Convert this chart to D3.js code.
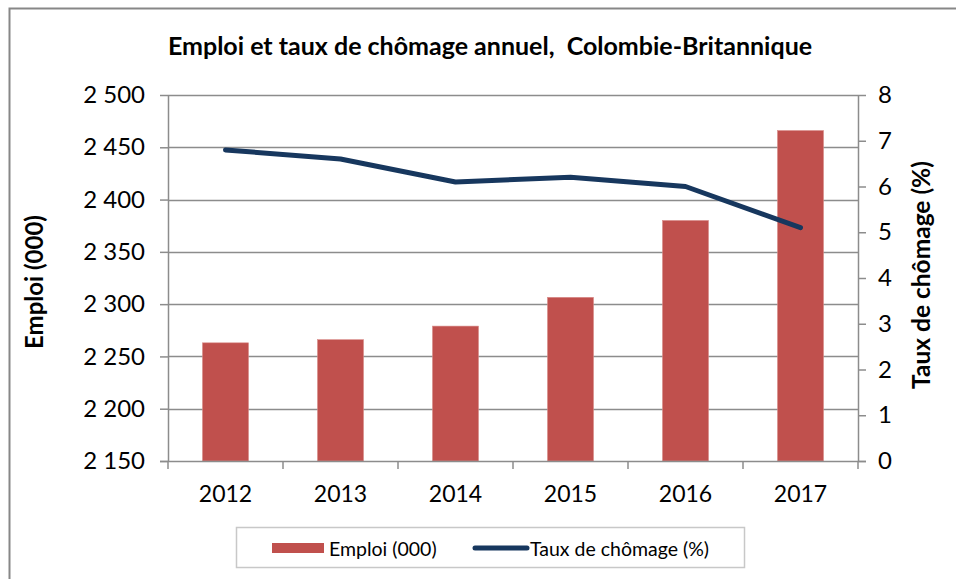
<!DOCTYPE html>
<html>
<head>
<meta charset="utf-8">
<script src="https://cdn.jsdelivr.net/npm/d3@7"></script>
<style>
  html, body { margin: 0; padding: 0; background: #fff; }
  svg text { font-family: Lato, "Open Sans", sans-serif; fill: #000; white-space: pre; }
</style>
</head>
<body>
<svg id="chart" width="956" height="579"></svg>
<script>
const years = ["2012", "2013", "2014", "2015", "2016", "2017"];
const emploi = [2263, 2266, 2279, 2306.5, 2380, 2466];
const chomage = [6.8, 6.6, 6.1, 6.2, 6.0, 5.1];
const leftTicks = [2150, 2200, 2250, 2300, 2350, 2400, 2450, 2500];
const rightTicks = [0, 1, 2, 3, 4, 5, 6, 7, 8];
const title = "Emploi et taux de chômage annuel,  Colombie-Britannique";
const leftTitle = "Emploi (000)";
const rightTitle = "Taux de chômage (%)";
const legendLabels = ["Emploi (000)", "Taux de chômage (%)"];

const svg = d3.select("#chart");
const m = { left: 168, right: 858, top: 95, bottom: 461 };
const gridColor = "#8c8c8c";
const barColor = "#C0504D";
const lineColor = "#17375E";

// outer frame
svg.append("rect").attr("x", 9.5).attr("y", 8.5).attr("width", 960).attr("height", 600)
  .attr("fill", "none").attr("stroke", "#878787").attr("stroke-width", 2);

const x = d3.scaleBand().domain(years).range([m.left, m.right]).padding(0);
const yL = d3.scaleLinear().domain([2150, 2500]).range([m.bottom, m.top]);
const yR = d3.scaleLinear().domain([0, 8]).range([m.bottom, m.top]);

// gridlines
svg.append("g").selectAll("line").data(leftTicks.slice(1)).join("line")
  .attr("x1", m.left).attr("x2", m.right)
  .attr("y1", d => Math.round(yL(d)) + 0.5).attr("y2", d => Math.round(yL(d)) + 0.5)
  .attr("stroke", gridColor).attr("stroke-width", 1.5);

// bars
const barW = x.bandwidth() * 0.4;
svg.append("g").selectAll("rect").data(emploi).join("rect")
  .attr("x", (d, i) => x(years[i]) + (x.bandwidth() - barW) / 2)
  .attr("width", barW)
  .attr("y", d => yL(d))
  .attr("height", d => yL(2150) - yL(d))
  .attr("fill", barColor)
  .attr("stroke", "#d88a88").attr("stroke-width", 0.6);

// left axis
const axL = d3.axisLeft(yL).tickValues(leftTicks).tickSize(8).tickPadding(15)
  .tickFormat(d => d3.format(",")(d).replace(",", " "));
const gL = svg.append("g").attr("transform", `translate(${m.left},0)`).call(axL);
// right axis
const axR = d3.axisRight(yR).tickValues(rightTicks).tickSize(8).tickPadding(12);
const gR = svg.append("g").attr("transform", `translate(${m.right},0)`).call(axR);
// bottom axis with ticks at category boundaries
const boundaries = years.map(y => x(y)).concat([m.right]);
const gB = svg.append("g");
gB.append("line").attr("x1", m.left - 8).attr("x2", m.right + 8)
  .attr("y1", m.bottom + 0.5).attr("y2", m.bottom + 0.5)
  .attr("stroke", gridColor).attr("stroke-width", 1.5);
gB.selectAll("line.tk").data(boundaries).join("line").attr("class", "tk")
  .attr("x1", d => d).attr("x2", d => d).attr("y1", m.bottom).attr("y2", m.bottom + 8)
  .attr("stroke", gridColor).attr("stroke-width", 1.5);
gB.selectAll("text").data(years).join("text")
  .attr("x", d => x(d) + x.bandwidth() / 2).attr("y", 502)
  .attr("text-anchor", "middle").attr("font-size", 23).text(d => d);

[gL, gR].forEach(g => {
  g.select(".domain").attr("stroke", gridColor).attr("stroke-width", 1.5);
  g.selectAll(".tick line").attr("stroke", gridColor).attr("stroke-width", 1.5);
  g.selectAll(".tick text").attr("font-size", 24).attr("font-family", "Lato, sans-serif").attr("fill", "#000");
});
gL.select(".domain").attr("d", `M0.5,${m.top}V${m.bottom}`);
gR.select(".domain").attr("d", `M0.5,${m.top}V${m.bottom}`);

// line
const line = d3.line().x((d, i) => x(years[i]) + x.bandwidth() / 2).y(d => yR(d));
svg.append("path").datum(chomage).attr("d", line)
  .attr("fill", "none").attr("stroke", lineColor).attr("stroke-width", 5)
  .attr("stroke-linecap", "round").attr("stroke-linejoin", "round");

// title
svg.append("text").attr("x", 490).attr("y", 55).attr("text-anchor", "middle")
  .attr("font-size", 25).attr("font-weight", "bold").text(title);

// axis titles
svg.append("text").attr("transform", "translate(43,282) rotate(-90)")
  .attr("text-anchor", "middle").attr("font-size", 24).attr("font-weight", "bold").text(leftTitle);
svg.append("text").attr("transform", "translate(930,275) rotate(-90)")
  .attr("text-anchor", "middle").attr("font-size", 24.5).attr("font-weight", "bold").text(rightTitle);

// legend
const lg = svg.append("g");
lg.append("rect").attr("x", 236.5).attr("y", 527.5).attr("width", 508).attr("height", 40)
  .attr("fill", "#fff").attr("stroke", "#c8c8c8").attr("stroke-width", 1.5);
lg.append("rect").attr("x", 272).attr("y", 543).attr("width", 52).attr("height", 10).attr("fill", barColor);
lg.append("text").attr("x", 329).attr("y", 556).attr("font-size", 19.5).text(legendLabels[0]);
lg.append("line").attr("x1", 475).attr("x2", 527).attr("y1", 548).attr("y2", 548)
  .attr("stroke", lineColor).attr("stroke-width", 5).attr("stroke-linecap", "round");
lg.append("text").attr("x", 530).attr("y", 556).attr("font-size", 19.5).text(legendLabels[1]);
</script>
</body>
</html>
